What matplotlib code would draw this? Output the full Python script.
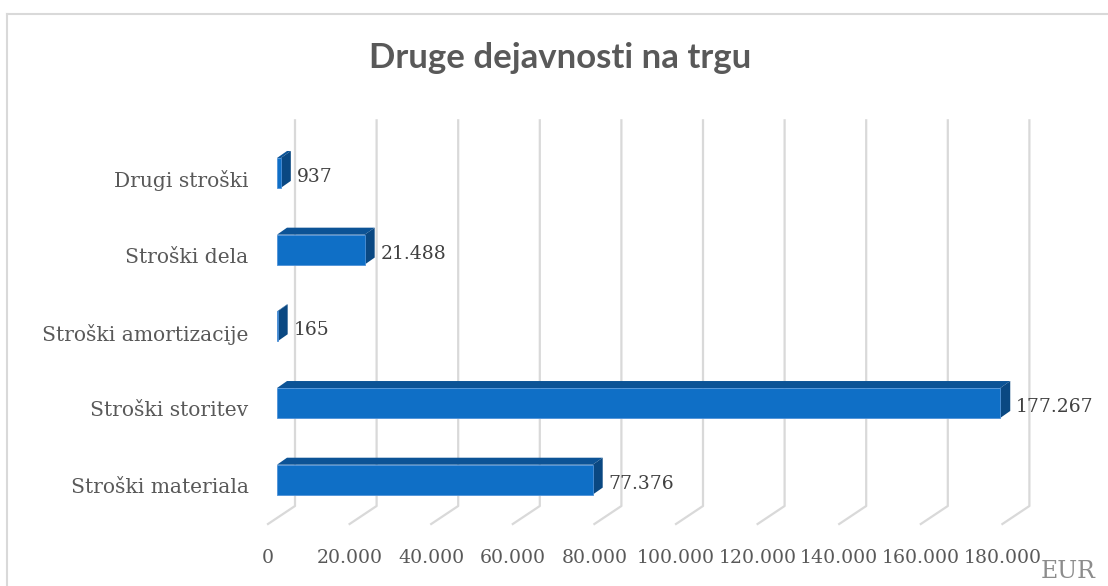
import matplotlib
matplotlib.use("Agg")
import matplotlib.pyplot as plt
from matplotlib.patches import Polygon
from matplotlib.lines import Line2D
from matplotlib.transforms import IdentityTransform, offset_copy
import numpy as np

# ---- data ----
categories = ["Stroški materiala", "Stroški storitev", "Stroški amortizacije",
              "Stroški dela", "Drugi stroški"]
values = [77376, 177267, 165, 21488, 937]
value_labels = ["77.376", "177.267", "165", "21.488", "937"]
x_ticks = [0, 20000, 40000, 60000, 80000, 100000, 120000, 140000, 160000, 180000]
x_tick_labels = ["0", "20.000", "40.000", "60.000", "80.000", "100.000",
                 "120.000", "140.000", "160.000", "180.000"]
title = "Druge dejavnosti na trgu"
unit = "EUR"

W, H = 1108, 586
fig = plt.figure(figsize=(W / 100, H / 100), dpi=100)
fig.patch.set_facecolor("white")

# outer chart frame (left and top visible)
frame_c = "#d9d9d9"
fig.add_artist(Line2D([7 / W, 7 / W], [0, 1 - 14 / H], transform=fig.transFigure,
                      color=frame_c, lw=1.5))
fig.add_artist(Line2D([7 / W, 1], [1 - 14 / H, 1 - 14 / H], transform=fig.transFigure,
                      color=frame_c, lw=1.5))

# plot area (front plane of the 3D floor)
left, right, bottom, top = 268, 1002.4, 524, 140.6
ax = fig.add_axes([left / W, 1 - bottom / H, (right - left) / W, (bottom - top) / H])
ax.set_xlim(0, 180000)
ax.set_ylim(-0.5, len(categories) - 0.5)
for s in ax.spines.values():
    s.set_visible(False)
ax.patch.set_alpha(0)

serif = "DejaVu Serif"
txt_c = "#595959"

ax.set_xticks(x_ticks)
ax.set_xticklabels(x_tick_labels, family=serif, fontsize=13.6, color=txt_c)
ax.set_yticks(range(len(categories)))
ax.set_yticklabels(categories, family=serif, fontsize=14.6, color=txt_c)
ax.tick_params(axis="both", length=0)
ax.tick_params(axis="x", pad=18)
ax.tick_params(axis="y", pad=14)

ident = IdentityTransform()
def D(x, y, dx=0.0, dy=0.0):
    p = ax.transData.transform((x, y))
    return (p[0] + dx, p[1] + dy)

# 3D depth offsets (pixels)
wall_dx, wall_dy = 27, 18      # back wall
bar_fx, bar_fy = 9, 6          # bar front face
bar_dx, bar_dy = 10, 7         # bar depth

grid_c = "#d9d9d9"
for xt in x_ticks:
    p0 = D(xt, -0.5)
    p1 = D(xt, -0.5, wall_dx, wall_dy)
    p2 = D(xt, len(categories) - 0.47, wall_dx, wall_dy)
    ax.add_line(Line2D([p0[0], p1[0], p2[0]], [p0[1], p1[1], p2[1]], transform=ident,
                       color=grid_c, lw=1.6, zorder=1, clip_on=False))

front_c = "#0f6fc6"
top_c = "#0c5396"
side_c = "#0a4882"
h = 0.39
front_tr = offset_copy(ax.transData, fig=fig, x=bar_fx, y=bar_fy, units="dots")
ax.barh(range(len(categories)), values, height=h, color=front_c,
        edgecolor="#4f92d8", linewidth=0.6, transform=front_tr, zorder=4, clip_on=False)

for i, v in enumerate(values):
    yt, yb = i + h / 2, i - h / 2
    a = D(0, yt, bar_fx, bar_fy)
    b = D(v, yt, bar_fx, bar_fy)
    c = D(v, yb, bar_fx, bar_fy)
    top_poly = [a, b, (b[0] + bar_dx, b[1] + bar_dy), (a[0] + bar_dx, a[1] + bar_dy)]
    side_poly = [b, (b[0] + bar_dx, b[1] + bar_dy), (c[0] + bar_dx, c[1] + bar_dy), c]
    ax.add_patch(Polygon(top_poly, closed=True, transform=ident, facecolor=top_c,
                         edgecolor="none", zorder=3, clip_on=False))
    ax.add_patch(Polygon(side_poly, closed=True, transform=ident, facecolor=side_c,
                         edgecolor="none", zorder=3, clip_on=False))
    lp = D(v, i, bar_fx + 16, bar_fy - 4)
    ax.text(lp[0], lp[1], value_labels[i], transform=ident, family=serif,
            fontsize=13.5, color="#404040", ha="left", va="center", zorder=5)

fig.text(560 / W, 1 - 58 / H, title, family="Lato", fontweight="bold",
         fontsize=25, color=txt_c, ha="center", va="center")
fig.text(1068 / W, 1 - 572 / H, unit, family=serif, fontsize=17, color="#8c8c8c",
         ha="center", va="center")

fig.savefig("out.png", dpi=100)
